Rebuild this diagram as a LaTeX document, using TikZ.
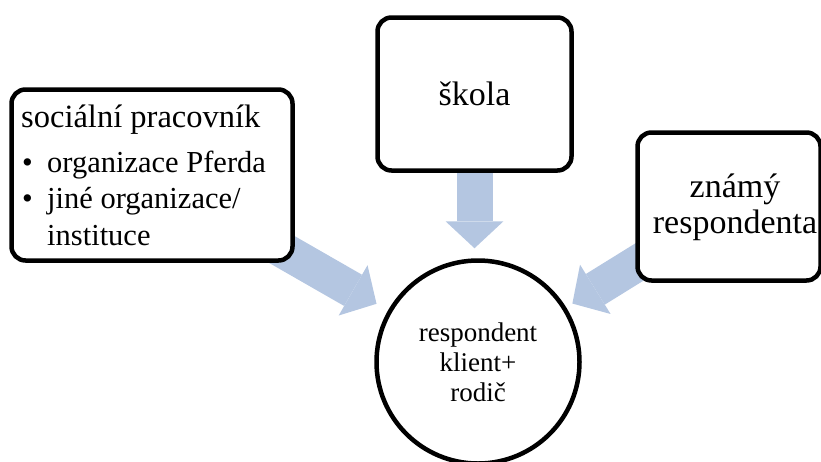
\documentclass[tikz,border=0pt]{standalone}
\usepackage{fontspec}
\setmainfont{Liberation Serif}
\usetikzlibrary{arrows.meta,calc,backgrounds}
\definecolor{flowblue}{RGB}{180,198,225}
\tikzset{
  srcbox/.style={
    draw=black,
    fill=white,
    line width=4.5pt,
    rounded corners=14pt,
    inner sep=0pt
  },
  boxtext/.style={
    align=center,
    inner sep=0pt,
    font=\fontsize{34}{36}\selectfont
  },
  target/.style={
    circle,
    draw=black,
    fill=white,
    line width=4.5pt,
    minimum size=203pt,
    inner sep=0pt,
    align=center,
    font=\fontsize{27}{30}\selectfont
  },
  flowarr/.style={
    flowblue,
    line width=36pt,
    -{Triangle[width=58pt,length=27pt,line width=0pt]}
  }
}

\begin{document}
\begin{tikzpicture}[x=1pt,y=-1pt]
  \useasboundingbox (0,0) rectangle (821,461);

  \node[srcbox,minimum width=281pt,minimum height=171pt] (lbox) at (152,175) {};
  \node[srcbox,minimum width=194pt,minimum height=153pt,boxtext] (tbox) at (474.5,94) {škola};
  \node[srcbox,minimum width=183pt,minimum height=148pt] (rbox) at (729,206.5) {};
  \node[target] (circ) at (478,362) {respondent\\klient+\\rodič};

  % texts of the two side boxes
  \node[anchor=base west,inner sep=0pt,font=\fontsize{30.5}{36.6}\selectfont] (ltext) at (21,127)
    {\begin{tabular}[t]{@{}p{26pt}@{}l@{}}
      \multicolumn{2}{@{}l@{}}{\fontsize{32.5}{36}\selectfont sociální pracovník}\\[8.4pt]
      \hspace{1pt}\textbullet & organizace Pferda\\
      \hspace{1pt}\textbullet & jiné organizace/\\
      & instituce
    \end{tabular}};
  \node[boxtext] (rtext) at (735,207) {známý\\respondenta};

  \begin{scope}[on background layer]
    \draw[flowarr] (lbox.center) -- ($(circ.center)!117pt!(lbox.center)$);
    \draw[flowarr] (tbox.center) -- ($(tbox.center |- circ.north)+(0,-10)$);
    \draw[flowarr] (rbox.center) -- ($(circ.center)!111pt!(rbox.center)$);
  \end{scope}
\end{tikzpicture}
\end{document}
